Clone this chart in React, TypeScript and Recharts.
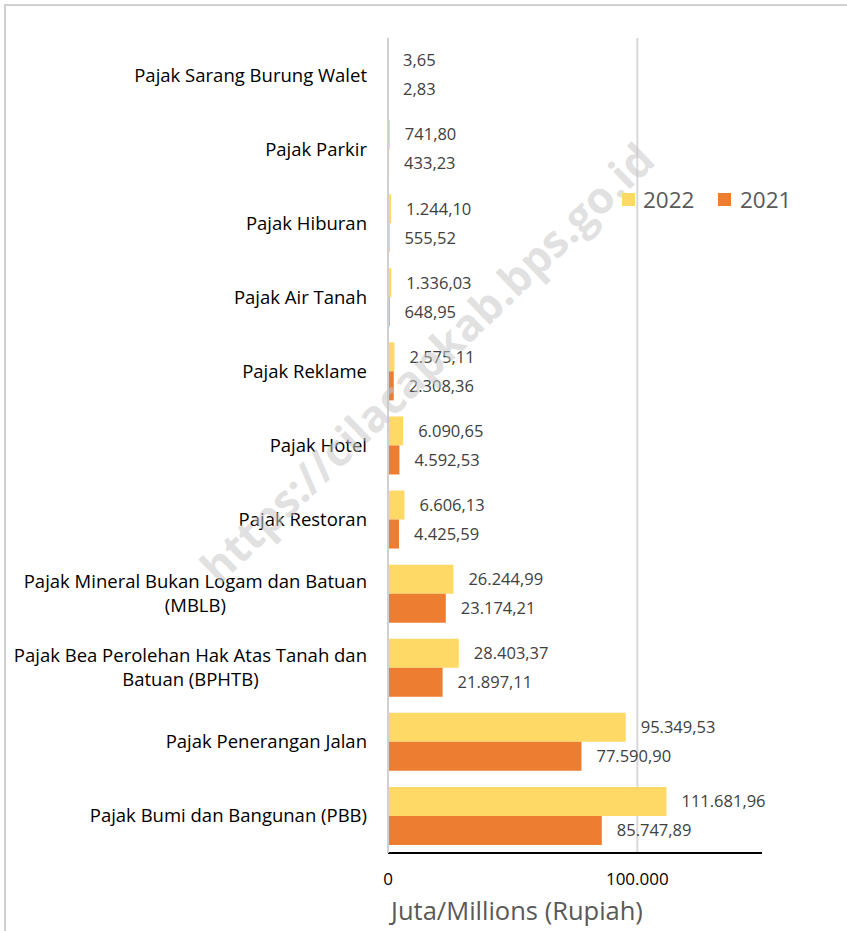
import { BarChart, Bar, XAxis, YAxis, CartesianGrid, LabelList } from 'recharts';

const categories = [
  'Pajak Sarang Burung Walet',
  'Pajak Parkir',
  'Pajak Hiburan',
  'Pajak Air Tanah',
  'Pajak Reklame',
  'Pajak Hotel',
  'Pajak Restoran',
  'Pajak Mineral Bukan Logam dan Batuan|(MBLB)',
  'Pajak Bea Perolehan Hak Atas Tanah dan|Batuan (BPHTB)',
  'Pajak Penerangan Jalan',
  'Pajak Bumi dan Bangunan (PBB)',
];
const values2022 = [3.65, 741.8, 1244.1, 1336.03, 2575.11, 6090.65, 6606.13, 26244.99, 28403.37, 95349.53, 111681.96];
const values2021 = [2.83, 433.23, 555.52, 648.95, 2308.36, 4592.53, 4425.59, 23174.21, 21897.11, 77590.9, 85747.89];
const xTicks = [0, 100000];

const chartData = categories.map((name, i) => ({ name, v2022: values2022[i], v2021: values2021[i] }));

const FONT = '"Open Sans", "Noto Sans", sans-serif';
const YELLOW = '#FFD966';
const ORANGE = '#ED7D31';

// Indonesian number format: 1.244,10
const fmtId = (val: number) => {
  const [int, dec] = Number(val).toFixed(2).split('.');
  return `${int.replace(/\B(?=(\d{3})+(?!\d))/g, '.')},${dec}`;
};
const fmtTick = (val: number) => String(val).replace(/\B(?=(\d{3})+(?!\d))/g, '.');

let measureCtx: CanvasRenderingContext2D | null = null;
const measure = (text: string, font: string) => {
  if (!measureCtx) measureCtx = document.createElement('canvas').getContext('2d');
  if (!measureCtx) return text.length * 8;
  measureCtx.font = font;
  return measureCtx.measureText(text).width;
};

const CategoryTick = (props: any) => {
  const { x, y, payload } = props;
  const lines: string[] = String(payload.value).split('|');
  const size = 18.5;
  const widest = Math.max(...lines.map((l) => measure(l, `${size}px "Open Sans"`)));
  const right = x - 13;
  const cx = right - widest / 2;
  const lineH = 24;
  const startY = y - ((lines.length - 1) * lineH) / 2;
  return (
    <g>
      {lines.map((l, i) => (
        <text key={i} x={cx} y={startY + i * lineH} dy="0.35em" textAnchor="middle"
          fontSize={size} fontFamily={FONT} fill="#000">
          {l}
        </text>
      ))}
    </g>
  );
};

export default function App() {
  return (
    <div style={{ position: 'absolute', left: 0, top: 0, width: 847, height: 931, background: '#fff' }}>
      <div style={{ position: 'absolute', left: 4, top: 4, right: 0, bottom: 0, borderTop: '2px solid #d0d0d0', borderLeft: '2px solid #d0d0d0' }} />
      <BarChart
        width={847}
        height={931}
        data={chartData}
        layout="vertical"
        margin={{ top: 38, right: 85, left: 0, bottom: 48 }}
        barSize={29}
        barGap={0}
        style={{ position: 'absolute', left: 0, top: 0 }}
      >
        <CartesianGrid horizontal={false} vertical={true} verticalValues={[100000]} stroke="#d9d9d9" strokeWidth={2} />
        <XAxis
          type="number"
          domain={[0, 150000]}
          ticks={xTicks}
          tickFormatter={fmtTick}
          axisLine={{ stroke: '#000', strokeWidth: 2 }}
          tickLine={false}
          height={30}
          tick={{ fontSize: 17, fontFamily: FONT, fill: '#000' }}
          tickMargin={14}
        />
        <YAxis
          type="category"
          dataKey="name"
          width={388}
          axisLine={{ stroke: '#d0d0d0', strokeWidth: 2 }}
          tickLine={false}
          tick={<CategoryTick />}
          interval={0}
        />
        <Bar dataKey="v2022" fill={YELLOW} isAnimationActive={false}>
          <LabelList dataKey="v2022" position="right" offset={15} formatter={fmtId}
            style={{ fontSize: 16.5, fontFamily: FONT, fill: '#404040' }} />
        </Bar>
        <Bar dataKey="v2021" fill={ORANGE} isAnimationActive={false}>
          <LabelList dataKey="v2021" position="right" offset={15} formatter={fmtId}
            style={{ fontSize: 16.5, fontFamily: FONT, fill: '#404040' }} />
        </Bar>
      </BarChart>
      <svg width={847} height={931} style={{ position: 'absolute', left: 0, top: 0, pointerEvents: 'none' }}>
        <text x={430} y={366} textAnchor="middle" dominantBaseline="middle" transform="rotate(-44 430 366)"
          fontSize={44} fontWeight={700} fontFamily={FONT} fill="#c8c8c8" fillOpacity={0.55}>
          https://cilacapkab.bps.go.id
        </text>
        <rect x={622} y={193} width={13} height={13} fill={YELLOW} />
        <text x={643} y={200} dy="0.35em" fontSize={22.5} fontFamily={FONT} fill="#595959">2022</text>
        <rect x={718} y={193} width={13} height={13} fill={ORANGE} />
        <text x={740} y={200} dy="0.35em" fontSize={22.5} fontFamily={FONT} fill="#595959">2021</text>
        <text x={517} y={911} textAnchor="middle" dy="0.35em" fontSize={25.5} fontFamily={FONT} fill="#595959">
          Juta/Millions (Rupiah)
        </text>
      </svg>
    </div>
  );
}
